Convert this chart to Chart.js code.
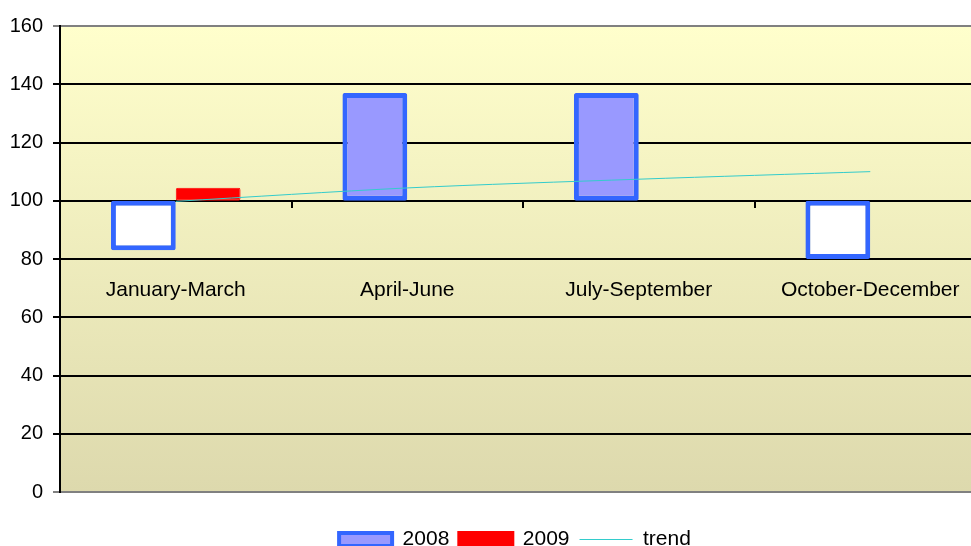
<!DOCTYPE html>
<html>
<head>
<meta charset="utf-8">
<script src="https://cdn.jsdelivr.net/npm/chart.js@4/dist/chart.umd.min.js"></script>
<style>
  html, body { margin: 0; padding: 0; background: #fff; overflow: hidden; }
  #wrap { width: 1030px; height: 546px; }
</style>
</head>
<body>
<div id="wrap"><canvas id="chart" width="1030" height="546"></canvas></div>
<script>
const quarters = ['January-March', 'April-June', 'July-September', 'October-December'];
const base = 100;
const values2008 = [83, 137, 137, 80];
const values2009 = [104.5, null, null, null];
const trend = [99.8, 104.4, 107.4, 110];
const yTicks = [0, 20, 40, 60, 80, 100, 120, 140, 160];

const font = { family: 'Liberation Sans, Arial, sans-serif', size: 21 };
const yFont = { family: 'Liberation Sans, Arial, sans-serif', size: 20 };

// plot area background, light yellow fading to tan
const plotBg = {
  id: 'plotBg',
  beforeDraw(chart) {
    const { ctx, chartArea: a } = chart;
    const g = ctx.createLinearGradient(0, a.top, 0, a.bottom);
    g.addColorStop(0, '#ffffcc');
    g.addColorStop(1, '#ddd9ad');
    ctx.save();
    ctx.fillStyle = g;
    ctx.fillRect(a.left, a.top, a.right - a.left, a.bottom - a.top);
    ctx.restore();
  }
};

// push the legend down and across, the way excel placed it
const legendShift = {
  id: 'legendShift',
  afterLayout(chart) {
    const lg = chart.legend;
    lg.top += 27; lg.bottom += 27;
    lg.left += 22; lg.right += 22;
  }
};

const ctx = document.getElementById('chart').getContext('2d');

new Chart(ctx, {
  type: 'bar',
  data: {
    labels: quarters,
    datasets: [
      {
        label: '2008',
        data: values2008.map(v => v == null ? null : [base, v]),
        backgroundColor: values2008.map(v => v < base ? '#ffffff' : '#9999ff'),
        borderColor: '#3366ff',
        borderWidth: 5,
        borderRadius: 2,
        borderSkipped: false,
        order: 1
      },
      {
        label: '2009',
        data: values2009.map(v => v == null ? null : [base, v]),
        backgroundColor: '#ff0000',
        borderColor: '#ff0000',
        borderWidth: 1,
        borderRadius: 2,
        borderSkipped: false,
        order: 1
      },
      {
        type: 'line',
        label: 'trend',
        data: trend,
        borderColor: '#33cccc',
        borderWidth: 1,
        pointRadius: 0,
        tension: 0.3,
        fill: false,
        order: 0
      }
    ]
  },
  options: {
    responsive: false,
    animation: false,
    layout: { padding: { top: 26, right: 44, left: 0, bottom: 13 } },
    datasets: {
      bar: { barPercentage: 1, categoryPercentage: 0.56, grouped: true }
    },
    plugins: {
      tooltip: { enabled: false },
      legend: {
        position: 'bottom',
        labels: {
          font,
          color: '#000',
          padding: 10,
          usePointStyle: true,
          pointStyleWidth: 53,
          boxHeight: 13,
          generateLabels: () => [
            { text: '2008', fillStyle: '#9999ff', strokeStyle: '#3366ff', lineWidth: 4, pointStyle: 'rect', datasetIndex: 0 },
            { text: '2009', fillStyle: '#ff0000', strokeStyle: '#ff0000', lineWidth: 4, pointStyle: 'rect', datasetIndex: 1 },
            { text: 'trend', fillStyle: '#33cccc', strokeStyle: '#33cccc', lineWidth: 1, pointStyle: 'line', datasetIndex: 2 }
          ]
        }
      }
    },
    scales: {
      x: {
        type: 'category',
        position: { y: base },
        offset: true,
        afterFit: s => { s.paddingLeft = 0; s.paddingRight = 0; },
        border: { display: true, color: '#000', width: 2 },
        grid: { drawOnChartArea: false, drawTicks: true, tickLength: 6, offset: true, color: '#000', lineWidth: 2 },
        ticks: { font, color: '#000', padding: 71, maxRotation: 0, autoSkip: false }
      },
      y: {
        min: 0,
        max: 160,
        afterBuildTicks: s => { s.ticks = yTicks.map(v => ({ value: v })); },
        afterFit: s => { s.width = 60; },
        border: { display: true, color: '#000', width: 2 },
        grid: {
          color: c => (c.tick && (c.tick.value === 0 || c.tick.value === 160)) ? '#808080' : '#000',
          lineWidth: 2,
          tickLength: 7,
          drawTicks: true
        },
        ticks: { font: yFont, color: '#000', padding: 10 }
      }
    }
  },
  plugins: [plotBg, legendShift]
});
</script>
</body>
</html>
